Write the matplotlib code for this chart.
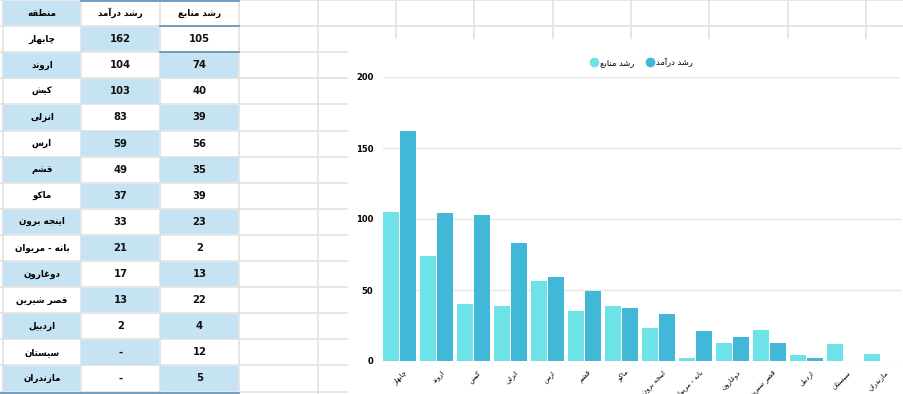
import numpy as np
import matplotlib
matplotlib.use("Agg")
import matplotlib.pyplot as plt
from matplotlib.patches import Rectangle
from matplotlib.lines import Line2D

plt.rcParams['font.family'] = ['DejaVu Sans']

# data
regions = ['چابهار', 'اروند', 'کیش', 'انزلی', 'ارس', 'قشم', 'ماکو', 'اینجه برون',
           'بانه - مریوان', 'دوغارون', 'قصر شیرین', 'اردبیل', 'سیستان', 'مازندران']
income = [162, 104, 103, 83, 59, 49, 37, 33, 21, 17, 13, 2, np.nan, np.nan]
resources = [105, 74, 40, 39, 56, 35, 39, 23, 2, 13, 22, 4, 12, 5]
headers = ['منطقه', 'رشد درآمد', 'رشد منابع']
yticks = [0, 50, 100, 150, 200]

light_blue = '#C5E3F3'
c_res = '#6DE3E8'
c_inc = '#42B8D8'
grid_c = '#E2E2E2'

#________________________________________________________________#
# tiny arabic/persian shaper (matplotlib has no bidi / joining)
RIGHT_JOIN = set('اآأإدذرزژوؤة')
FORMS = {
    'ا': (0xFE8D, 0xFE8E), 'آ': (0xFE81, 0xFE82), 'د': (0xFEA9, 0xFEAA),
    'ذ': (0xFEAB, 0xFEAC), 'ر': (0xFEAD, 0xFEAE), 'ز': (0xFEAF, 0xFEB0),
    'ژ': (0xFB8A, 0xFB8B), 'و': (0xFEED, 0xFEEE), 'ة': (0xFE93, 0xFE94),
    'ب': (0xFE8F, 0xFE90, 0xFE91, 0xFE92), 'پ': (0xFB56, 0xFB57, 0xFB58, 0xFB59),
    'ت': (0xFE95, 0xFE96, 0xFE97, 0xFE98), 'ج': (0xFE9D, 0xFE9E, 0xFE9F, 0xFEA0),
    'چ': (0xFB7A, 0xFB7B, 0xFB7C, 0xFB7D), 'ح': (0xFEA1, 0xFEA2, 0xFEA3, 0xFEA4),
    'خ': (0xFEA5, 0xFEA6, 0xFEA7, 0xFEA8), 'س': (0xFEB1, 0xFEB2, 0xFEB3, 0xFEB4),
    'ش': (0xFEB5, 0xFEB6, 0xFEB7, 0xFEB8), 'ص': (0xFEB9, 0xFEBA, 0xFEBB, 0xFEBC),
    'ض': (0xFEBD, 0xFEBE, 0xFEBF, 0xFEC0), 'ط': (0xFEC1, 0xFEC2, 0xFEC3, 0xFEC4),
    'ظ': (0xFEC5, 0xFEC6, 0xFEC7, 0xFEC8), 'ع': (0xFEC9, 0xFECA, 0xFECB, 0xFECC),
    'غ': (0xFECD, 0xFECE, 0xFECF, 0xFED0), 'ف': (0xFED1, 0xFED2, 0xFED3, 0xFED4),
    'ق': (0xFED5, 0xFED6, 0xFED7, 0xFED8), 'ک': (0xFB8E, 0xFB8F, 0xFB90, 0xFB91),
    'گ': (0xFB92, 0xFB93, 0xFB94, 0xFB95), 'ل': (0xFEDD, 0xFEDE, 0xFEDF, 0xFEE0),
    'م': (0xFEE1, 0xFEE2, 0xFEE3, 0xFEE4), 'ن': (0xFEE5, 0xFEE6, 0xFEE7, 0xFEE8),
    'ه': (0xFEE9, 0xFEEA, 0xFEEB, 0xFEEC), 'ی': (0xFBFC, 0xFBFD, 0xFBFE, 0xFBFF),
}


def fa(text):
    out = []
    for i, c in enumerate(text):
        if c not in FORMS:
            out.append(c)
            continue
        prev = text[i - 1] if i > 0 else ''
        nxt = text[i + 1] if i + 1 < len(text) else ''
        jp = prev in FORMS and prev not in RIGHT_JOIN
        jn = c not in RIGHT_JOIN and nxt in FORMS
        f = FORMS[c]
        if c in RIGHT_JOIN:
            out.append(chr(f[1] if jp else f[0]))
        elif jp and jn:
            out.append(chr(f[3]))
        elif jp:
            out.append(chr(f[1]))
        elif jn:
            out.append(chr(f[2]))
        else:
            out.append(chr(f[0]))
    return ''.join(reversed(out))


fig = plt.figure(figsize=(9.04, 3.94), dpi=100)
fig.patch.set_facecolor('white')

#________________________________________________________________#
# spreadsheet background
bg = fig.add_axes([0, 0, 1, 1])
bg.set_xlim(0, 904)
bg.set_ylim(394, 0)
bg.axis('off')

col_x = [3, 81, 160, 239, 318, 396, 474, 553, 631, 709, 788, 866, 945]
row_h = 26.1
n_rows = len(regions) + 1

for x in col_x:
    bg.plot([x, x], [0, 394], color=grid_c, lw=1.2, zorder=1)
for r in range(n_rows + 1):
    y = r * row_h
    bg.plot([0, 904], [y, y], color=grid_c, lw=1.2, zorder=1)

# cells, checkerboard shading
for r in range(n_rows):
    for c in range(3):
        y0 = r * row_h
        shaded = (r + c) % 2 == 0 if r > 0 else c == 0
        if shaded:
            bg.add_patch(Rectangle((col_x[c] + 0.5, y0 + 0.8), col_x[c + 1] - col_x[c] - 1, row_h - 1.6,
                                   facecolor=light_blue, edgecolor='none', zorder=2))

for c, h in enumerate(headers):
    bg.text((col_x[c] + col_x[c + 1]) / 2, row_h / 2, fa(h), ha='center', va='center',
            fontsize=6.3, fontweight='bold', zorder=3)

for i, name in enumerate(regions):
    yc = (i + 1.5) * row_h
    bg.text((col_x[0] + col_x[1]) / 2, yc, fa(name), ha='center', va='center',
            fontsize=6.3, fontweight='bold', zorder=3)
    v1 = '-' if np.isnan(income[i]) else str(int(income[i]))
    bg.text((col_x[1] + col_x[2]) / 2, yc, v1, ha='center', va='center', fontsize=7.2,
            fontweight='bold', color='#111111', zorder=3)
    bg.text((col_x[2] + col_x[3]) / 2, yc, str(resources[i]), ha='center', va='center', fontsize=7.2,
            fontweight='bold', color='#111111', zorder=3)

# selection borders
sel = '#5E8EB5'
bg.plot([col_x[1], col_x[3]], [0.5, 0.5], color=sel, lw=1.2, zorder=4)
bg.plot([col_x[2], col_x[3]], [row_h, row_h], color=sel, lw=1.2, zorder=4)
bg.plot([col_x[2], col_x[3]], [2 * row_h, 2 * row_h], color=sel, lw=1.2, zorder=4)
bg.plot([0, col_x[3]], [392.5, 392.5], color=sel, lw=1.2, zorder=4)

# chart panel covering the sheet
bg.add_patch(Rectangle((348, 39), 600, 400, facecolor='white', edgecolor='none', zorder=5))

#________________________________________________________________#
# the bar chart
ax = fig.add_axes([383 / 904, 33 / 394, 518 / 904, 284 / 394])
ax.patch.set_alpha(0)
x = np.arange(len(regions))
w = 0.44
ax.bar(x - 0.225, resources, width=w, color=c_res, zorder=3, label=fa('رشد منابع'))
ax.bar(x + 0.235, np.nan_to_num(income), width=w, color=c_inc, zorder=3, label=fa('رشد درآمد'))

ax.set_xlim(-0.45, 13.55)
ax.set_ylim(0, 200)
ax.set_yticks(yticks)
ax.set_yticklabels([str(t) for t in yticks], fontsize=6, fontweight='bold')
ax.yaxis.grid(True, color='#E6E6E6', lw=1)
ax.set_axisbelow(True)
for s in ax.spines.values():
    s.set_visible(False)
ax.tick_params(axis='both', length=0)
ax.tick_params(axis='y', pad=7)
ax.set_xticks(x + 0.1)
ax.set_xticklabels([fa(r) for r in regions], rotation=45, ha='right', va='top',
                   rotation_mode='anchor', fontsize=5)
ax.tick_params(axis='x', pad=6)

handles = [Line2D([], [], marker='o', ls='', color=c_res, markersize=6),
           Line2D([], [], marker='o', ls='', color=c_inc, markersize=6)]
fig.legend(handles, [fa('رشد منابع'), fa('رشد درآمد')], ncol=2, frameon=False,
           loc='center', bbox_to_anchor=(641 / 904, 1 - 62 / 394), fontsize=6,
           handletextpad=0.2, columnspacing=1.4, handlelength=1)

fig.savefig('out.png', dpi=100)
